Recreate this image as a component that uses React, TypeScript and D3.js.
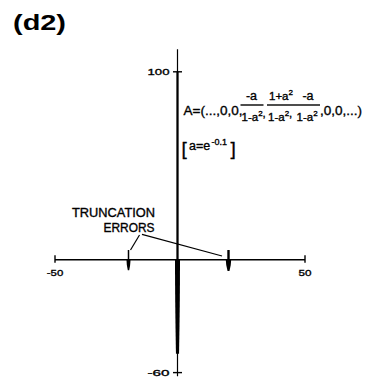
import React from "react";
import * as d3 from "d3";

// Sample indices along the horizontal axis and the stem values drawn at them.
const stemIndex = [-20, 0, 20];
const upperValues = [5.2, 100, 5.2];
const lowerValues = [-5.5, -50, -6];
const upperWidths = [1.5, 2.2, 2.4];
const lowerWidths = [4, 5, 5.4];
const tipRatio = [0.35, 0.62, 0.35];

// Axis extents and tick labels.
const xDomain = [-50, 0, 50];
const xTicks = [-50, 50];
const yExtent = [-62, 112];
const yTicks = [100, -60];
const yTickLabels = ["100", "-60"];

const W = 367;
const H = 379;
const FONT = "'Liberation Sans', Arial, Helvetica, sans-serif";

export default function App() {
  const x = d3.scaleLinear().domain(xDomain).range([55, 177.5, 305]);
  const y = d3.scaleLinear().domain([-60, 100]).range([372.6, 71.8]);
  const x0 = x(0);
  const y0 = y(0);

  // Tapered stem outline: wide at the axis, narrower at the tip.
  const taper = (n: number, v: number, w: number, r: number) => {
    const p = d3.path();
    const cx = x(n);
    const tip = y(v);
    const mid = y0 + (tip - y0) * 0.45;
    p.moveTo(cx - w / 2, y0);
    p.lineTo(cx + w / 2, y0);
    p.quadraticCurveTo(cx + w / 2, mid, cx + (w * r) / 2, tip);
    p.lineTo(cx - (w * r) / 2, tip);
    p.quadraticCurveTo(cx - w / 2, mid, cx - w / 2, y0);
    p.closePath();
    return p.toString();
  };

  const txt = {
    fontFamily: FONT,
    fill: "#000",
    stroke: "#000",
    strokeWidth: 0.35,
  } as const;

  // "1-a²" / "1+a²" with a raised exponent, kept in a single text element.
  const sq = (xPos: number, yPos: number, base: string, comma = false) => (
    <text x={xPos} y={yPos} fontSize={11.5}>
      <tspan>{base}</tspan>
      <tspan dy={-5.5} fontSize={8}>2</tspan>
      {comma ? <tspan dy={1.5}>,</tspan> : null}
    </text>
  );

  return (
    <svg width={W} height={H} style={{ position: "absolute", left: 0, top: 0 }}>
      <rect width={W} height={H} fill="#fff" />
      {/* panel label */}
      <text x={13} y={30} fontSize={22} fontWeight={900} textLength={53} lengthAdjust="spacingAndGlyphs" fontFamily={FONT}>
        (d2)
      </text>

      {/* axes */}
      <line x1={x(-50)} x2={x(50)} y1={y0} y2={y0} stroke="#000" strokeWidth={1.6} />
      <line x1={x0} x2={x0} y1={y(yExtent[0])} y2={y(yExtent[1])} stroke="#000" strokeWidth={1.2} />
      {xTicks.map((t) => (
        <g key={t}>
          <line x1={x(t)} x2={x(t)} y1={y0 - 4.5} y2={y0 + 3} stroke="#000" strokeWidth={1.4} />
          <text x={x(t)} y={276} fontSize={9.5} textAnchor="middle" textLength={t < 0 ? 16.5 : 13} lengthAdjust="spacingAndGlyphs" {...txt}>
            {t}
          </text>
        </g>
      ))}
      {yTicks.map((t, i) => (
        <g key={t}>
          <line x1={x0 - 4.5} x2={x0 + 4.5} y1={y(t)} y2={y(t)} stroke="#000" strokeWidth={1.4} />
          <text x={x0 - 8} y={y(t) + 3.3} fontSize={9.5} textAnchor="end" textLength={22} lengthAdjust="spacingAndGlyphs" {...txt}>
            {yTickLabels[i]}
          </text>
        </g>
      ))}

      {/* stems */}
      {stemIndex.map((n, i) => (
        <g key={n}>
          <line x1={x(n)} x2={x(n)} y1={y0} y2={y(upperValues[i])} stroke="#000" strokeWidth={upperWidths[i]} />
          <path d={taper(n, lowerValues[i], lowerWidths[i], tipRatio[i])} fill="#000" />
        </g>
      ))}

      {/* annotation */}
      <text x={155} y={216.5} fontSize={13} textAnchor="end" textLength={83} lengthAdjust="spacingAndGlyphs" {...txt}>
        TRUNCATION
      </text>
      <text x={154.5} y={231.5} fontSize={13} textAnchor="end" textLength={51} lengthAdjust="spacingAndGlyphs" {...txt}>
        ERRORS
      </text>
      <line x1={139.5} y1={235} x2={130.5} y2={250} stroke="#000" strokeWidth={1.2} />
      <line x1={142} y1={234.3} x2={222} y2={256} stroke="#000" strokeWidth={1.2} />

      {/* formula */}
      <g {...txt}>
        <text x={183.5} y={114.5} fontSize={13.5}>
          A=(...,0,0,
        </text>
        {/* fraction 1 */}
        <text x={251.5} y={100} fontSize={12.5} textAnchor="middle">-a</text>
        <line x1={240.5} x2={263.5} y1={105} y2={105} stroke="#000" strokeWidth={1.4} />
        {sq(241.5, 121, "1-a", true)}
        {/* fraction 2 */}
        {sq(269, 100, "1+a")}
        <line x1={267} x2={296} y1={105} y2={105} stroke="#000" strokeWidth={1.4} />
        {sq(268, 121, "1-a", true)}
        {/* fraction 3 */}
        <text x={308} y={100} fontSize={12.5} textAnchor="middle">-a</text>
        <line x1={296} x2={320} y1={105} y2={105} stroke="#000" strokeWidth={1.4} />
        {sq(296.5, 121, "1-a")}
        <text x={320} y={114.5} fontSize={13.5}>
          ,0,0,...)
        </text>
        {/* parameter */}
        <text x={181.5} y={155} fontSize={19} fontWeight={300}>[</text>
        <text x={189} y={150} fontSize={12.5}>
          a=e
        </text>
        <text x={211.5} y={144.5} fontSize={9}>-0.1</text>
        <text x={230.5} y={155} fontSize={19} fontWeight={300}>]</text>
      </g>
    </svg>
  );
}
